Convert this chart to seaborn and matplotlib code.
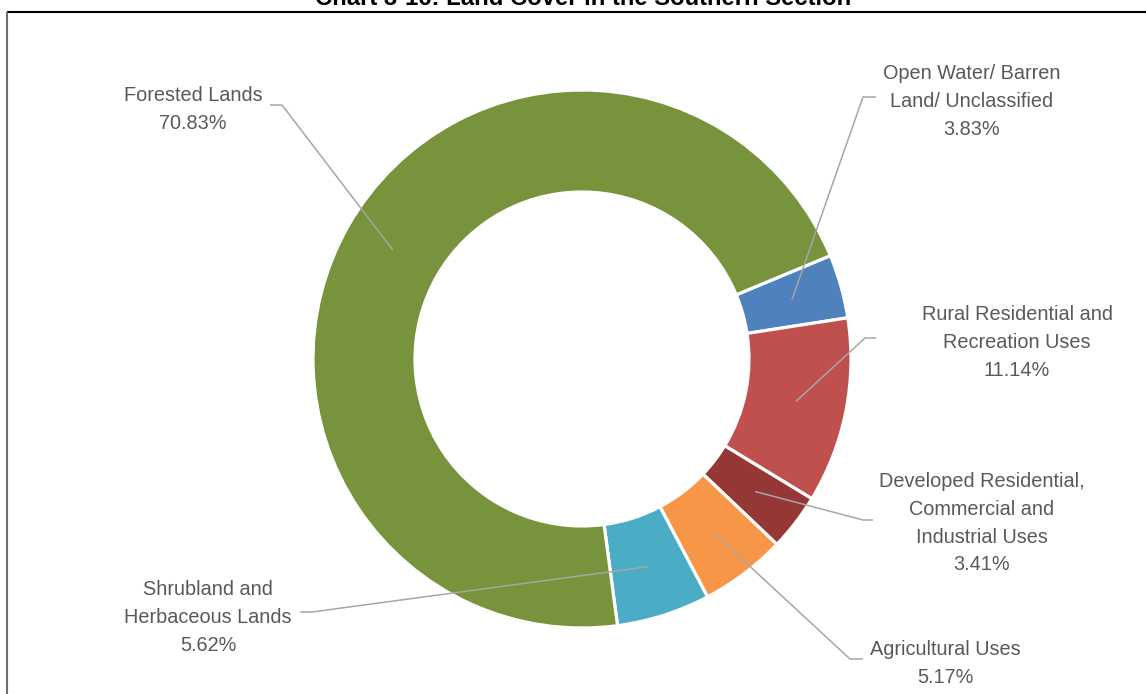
import matplotlib
matplotlib.use("Agg")
import matplotlib.pyplot as plt
import numpy as np
import seaborn as sns

# Land cover shares, listed clockwise from the upper-right wedge
categories = [
    "Open Water/ Barren\nLand/ Unclassified",
    "Rural Residential and\nRecreation Uses",
    "Developed Residential,\nCommercial and\nIndustrial Uses",
    "Agricultural Uses",
    "Shrubland and\nHerbaceous Lands",
    "Forested Lands",
]
shares = [3.83, 11.14, 3.41, 5.17, 5.62, 70.83]
title = "Chart 3-16: Land Cover in the Southern Section"

colors = ["#4F81BD", "#C0504D", "#953735", "#F79646", "#4BACC6", "#77933C"]

W, H = 1146, 694
sns.set_theme(style="white")
plt.rcParams["font.family"] = ["Liberation Sans", "DejaVu Sans"]

fig = plt.figure(figsize=(W / 100, H / 100), dpi=100)
ax = fig.add_axes([0, 0, 1, 1])


def py(y):
    """Convert a top-down pixel row to the axis' bottom-up coordinate."""
    return H - y


# Donut geometry (pixel units)
cx, cy = 582, py(359)
r_out, r_in = 269, 167

wedges, _ = ax.pie(
    shares,
    colors=colors,
    startangle=22.6,
    counterclock=False,
    radius=r_out,
    center=(cx, cy),
    wedgeprops=dict(width=r_out - r_in, edgecolor="white", linewidth=2.3),
)

ax.set_xlim(0, W)
ax.set_ylim(0, H)
ax.set_aspect("equal")
ax.axis("off")

# Label layout: text centre x, first baseline y, elbow start x, elbow y, elbow corner x
label_layout = [
    (972, 79, 876, 97, 863),
    (1017, 320, 876, 338, 865),
    (982, 487, 873, 520, 863),
    (945, 655, 863, 659, 850),
    (208, 595, 300, 612, 312),
    (193, 101, 270, 105, 282),
]
line_step = 27.8
text_color = "#595959"
leader_color = "#A6A6A6"
r_mid = (r_out + r_in) / 2

for wedge, name, share, (tx, ty, ex, ey, kx) in zip(wedges, categories, shares, label_layout):
    lines = name.split("\n") + [f"{share:.2f}%"]
    for i, line in enumerate(lines):
        ax.text(tx, py(ty + i * line_step), line, ha="center", va="baseline",
                fontsize=14.3, color=text_color)
    mid = np.deg2rad((wedge.theta1 + wedge.theta2) / 2)
    px_, py_ = cx + r_mid * np.cos(mid), cy + r_mid * np.sin(mid)
    ax.plot([ex, kx, px_], [py(ey), py(ey), py_], color=leader_color, lw=1.1,
            solid_capstyle="butt", zorder=5)

# Title and frame rules
ax.text(583, py(5), title, ha="center", va="baseline", fontsize=17.2,
        fontweight="bold", color="black")
ax.plot([7, W], [py(12), py(12)], color="black", lw=1.5, solid_capstyle="butt")
ax.plot([7, 7], [py(12), 0], color="#6E6E6E", lw=1.5, solid_capstyle="butt")

fig.savefig("out.png", dpi=100)
